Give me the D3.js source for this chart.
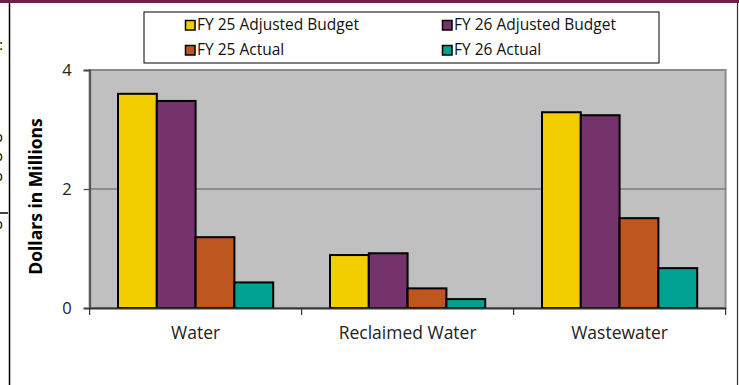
<!DOCTYPE html>
<html>
<head>
<meta charset="utf-8">
<script src="https://cdn.jsdelivr.net/npm/d3@7"></script>
<style>
  html, body { margin: 0; padding: 0; background: #ffffff; }
  svg { display: block; font-family: "Open Sans", "Noto Sans", sans-serif; }
</style>
</head>
<body>
<svg id="chart" width="739" height="385"></svg>
<script>
// Utility budgets vs. actuals, in millions of dollars
const categories = ["Water", "Reclaimed Water", "Wastewater"];
const seriesNames = ["FY 25 Adjusted Budget", "FY 26 Adjusted Budget", "FY 25 Actual", "FY 26 Actual"];
const fy25Budget = [3.60, 0.89, 3.29];
const fy26Budget = [3.48, 0.92, 3.24];
const fy25Actual = [1.19, 0.33, 1.51];
const fy26Actual = [0.43, 0.15, 0.67];
const yTicks = [0, 2, 4];
const seriesColors = ["#f2ce00", "#74336a", "#be561f", "#00a190"];

const seriesValues = [fy25Budget, fy26Budget, fy25Actual, fy26Actual];
const rows = categories.map((c, i) => ({
  category: c,
  values: seriesNames.map((s, k) => ({ series: s, value: seriesValues[k][i] }))
}));

const svg = d3.select("#chart");
const plot = { left: 89.6, right: 725.6, top: 70, bottom: 308 };

// Page frame: header band and side rules
svg.append("rect").attr("x", 0).attr("y", 0).attr("width", 739).attr("height", 3).attr("fill", "#6d2047");
svg.append("line").attr("x1", 9.5).attr("x2", 9.5).attr("y1", 3).attr("y2", 385)
  .attr("stroke", "#000").attr("stroke-width", 1.5);
svg.append("line").attr("x1", 737.5).attr("x2", 737.5).attr("y1", 3).attr("y2", 385)
  .attr("stroke", "#333").attr("stroke-width", 1.2);

// Edge of the neighbouring panel
const edge = svg.append("g").attr("fill", "#000").style("font-size", "14px");
edge.append("text").attr("x", 3).attr("y", 50).attr("text-anchor", "end").text(":");
[142, 161, 181, 229].forEach(yy =>
  edge.append("text").attr("x", 3).attr("y", yy).attr("text-anchor", "end").text("o"));
svg.append("line").attr("x1", 0).attr("x2", 8).attr("y1", 213).attr("y2", 213)
  .attr("stroke", "#000").attr("stroke-width", 1.5);

// Scales
const x0 = d3.scaleBand().domain(categories).range([plot.left, plot.right]).paddingInner(0).paddingOuter(0);
const x1 = d3.scaleBand().domain(seriesNames).range([28.4, x0.bandwidth() - 28.4]).padding(0);
const y = d3.scaleLinear().domain([0, 4]).range([plot.bottom, plot.top]);
const color = d3.scaleOrdinal().domain(seriesNames).range(seriesColors);

// Plot area
svg.append("rect")
  .attr("x", plot.left).attr("y", plot.top)
  .attr("width", plot.right - plot.left).attr("height", plot.bottom - plot.top)
  .attr("fill", "#c0c0c0").attr("stroke", "#8c8c8c").attr("stroke-width", 2);

// Horizontal gridlines
svg.append("g").selectAll("line")
  .data(yTicks.filter(t => t > 0 && t < 4))
  .join("line")
  .attr("x1", plot.left).attr("x2", plot.right)
  .attr("y1", d => y(d)).attr("y2", d => y(d))
  .attr("stroke", "#5e5e5e").attr("stroke-width", 1.2);

// Bars
const groups = svg.append("g").selectAll("g")
  .data(rows)
  .join("g")
  .attr("transform", d => `translate(${x0(d.category)},0)`);
groups.selectAll("rect")
  .data(d => d.values)
  .join("rect")
  .attr("x", d => x1(d.series))
  .attr("y", d => y(d.value))
  .attr("width", x1.bandwidth())
  .attr("height", d => y(0) - y(d.value))
  .attr("fill", d => color(d.series))
  .attr("stroke", "#000")
  .attr("stroke-width", 2);

// Y axis
const yAxis = svg.append("g")
  .attr("transform", `translate(${plot.left},0)`)
  .call(d3.axisLeft(y).tickValues(yTicks).tickFormat(d3.format("d")).tickSize(6).tickPadding(12));
yAxis.select(".domain").attr("stroke", "#555").attr("stroke-width", 2);
yAxis.selectAll(".tick line").attr("stroke", "#444").attr("stroke-width", 1.2);
yAxis.selectAll("text").attr("fill", "#222").style("font-size", "16.5px").style("font-family", "'Open Sans', sans-serif");

// X axis: baseline with ticks at category boundaries
const xAxis = svg.append("g")
  .attr("transform", `translate(0,${plot.bottom})`)
  .call(d3.axisBottom(x0).tickSize(0).tickPadding(0));
xAxis.select(".domain").attr("stroke", "#333").attr("stroke-width", 2);
xAxis.selectAll("text")
  .attr("y", 31).attr("dy", null)
  .attr("fill", "#222")
  .style("font-size", "17.5px")
  .style("font-family", "'Open Sans', sans-serif");
const bounds = categories.map(c => x0(c)).concat([x0(categories[categories.length - 1]) + x0.bandwidth()]);
xAxis.append("g").selectAll("line")
  .data(bounds)
  .join("line")
  .attr("x1", d => d).attr("x2", d => d)
  .attr("y1", 0).attr("y2", 7)
  .attr("stroke", "#333").attr("stroke-width", 1.2);

// Y axis title
svg.append("text")
  .attr("transform", "translate(41.5,196.5) rotate(-90)")
  .attr("text-anchor", "middle")
  .attr("fill", "#000")
  .style("font-size", "17.5px")
  .style("font-weight", "bold")
  .text("Dollars in Millions");

// Legend
const legend = svg.append("g");
legend.append("rect")
  .attr("x", 144).attr("y", 12).attr("width", 515).attr("height", 51)
  .attr("fill", "#fff").attr("stroke", "#000").attr("stroke-width", 1);
const legendCols = [185, 442];
const legendRows = [20, 45];
const items = legend.selectAll("g.item")
  .data(seriesNames)
  .join("g")
  .attr("class", "item")
  .attr("transform", (d, i) => `translate(${legendCols[i % 2]},${legendRows[Math.floor(i / 2)]})`);
items.append("rect")
  .attr("x", 0.5).attr("y", 0.5).attr("width", 9.5).attr("height", 9.5)
  .attr("fill", d => color(d)).attr("stroke", "#000").attr("stroke-width", 1.5);
items.append("text")
  .attr("x", 12).attr("y", 9.5)
  .attr("fill", "#111")
  .style("font-size", "15.5px")
  .text(d => d);
</script>
</body>
</html>
